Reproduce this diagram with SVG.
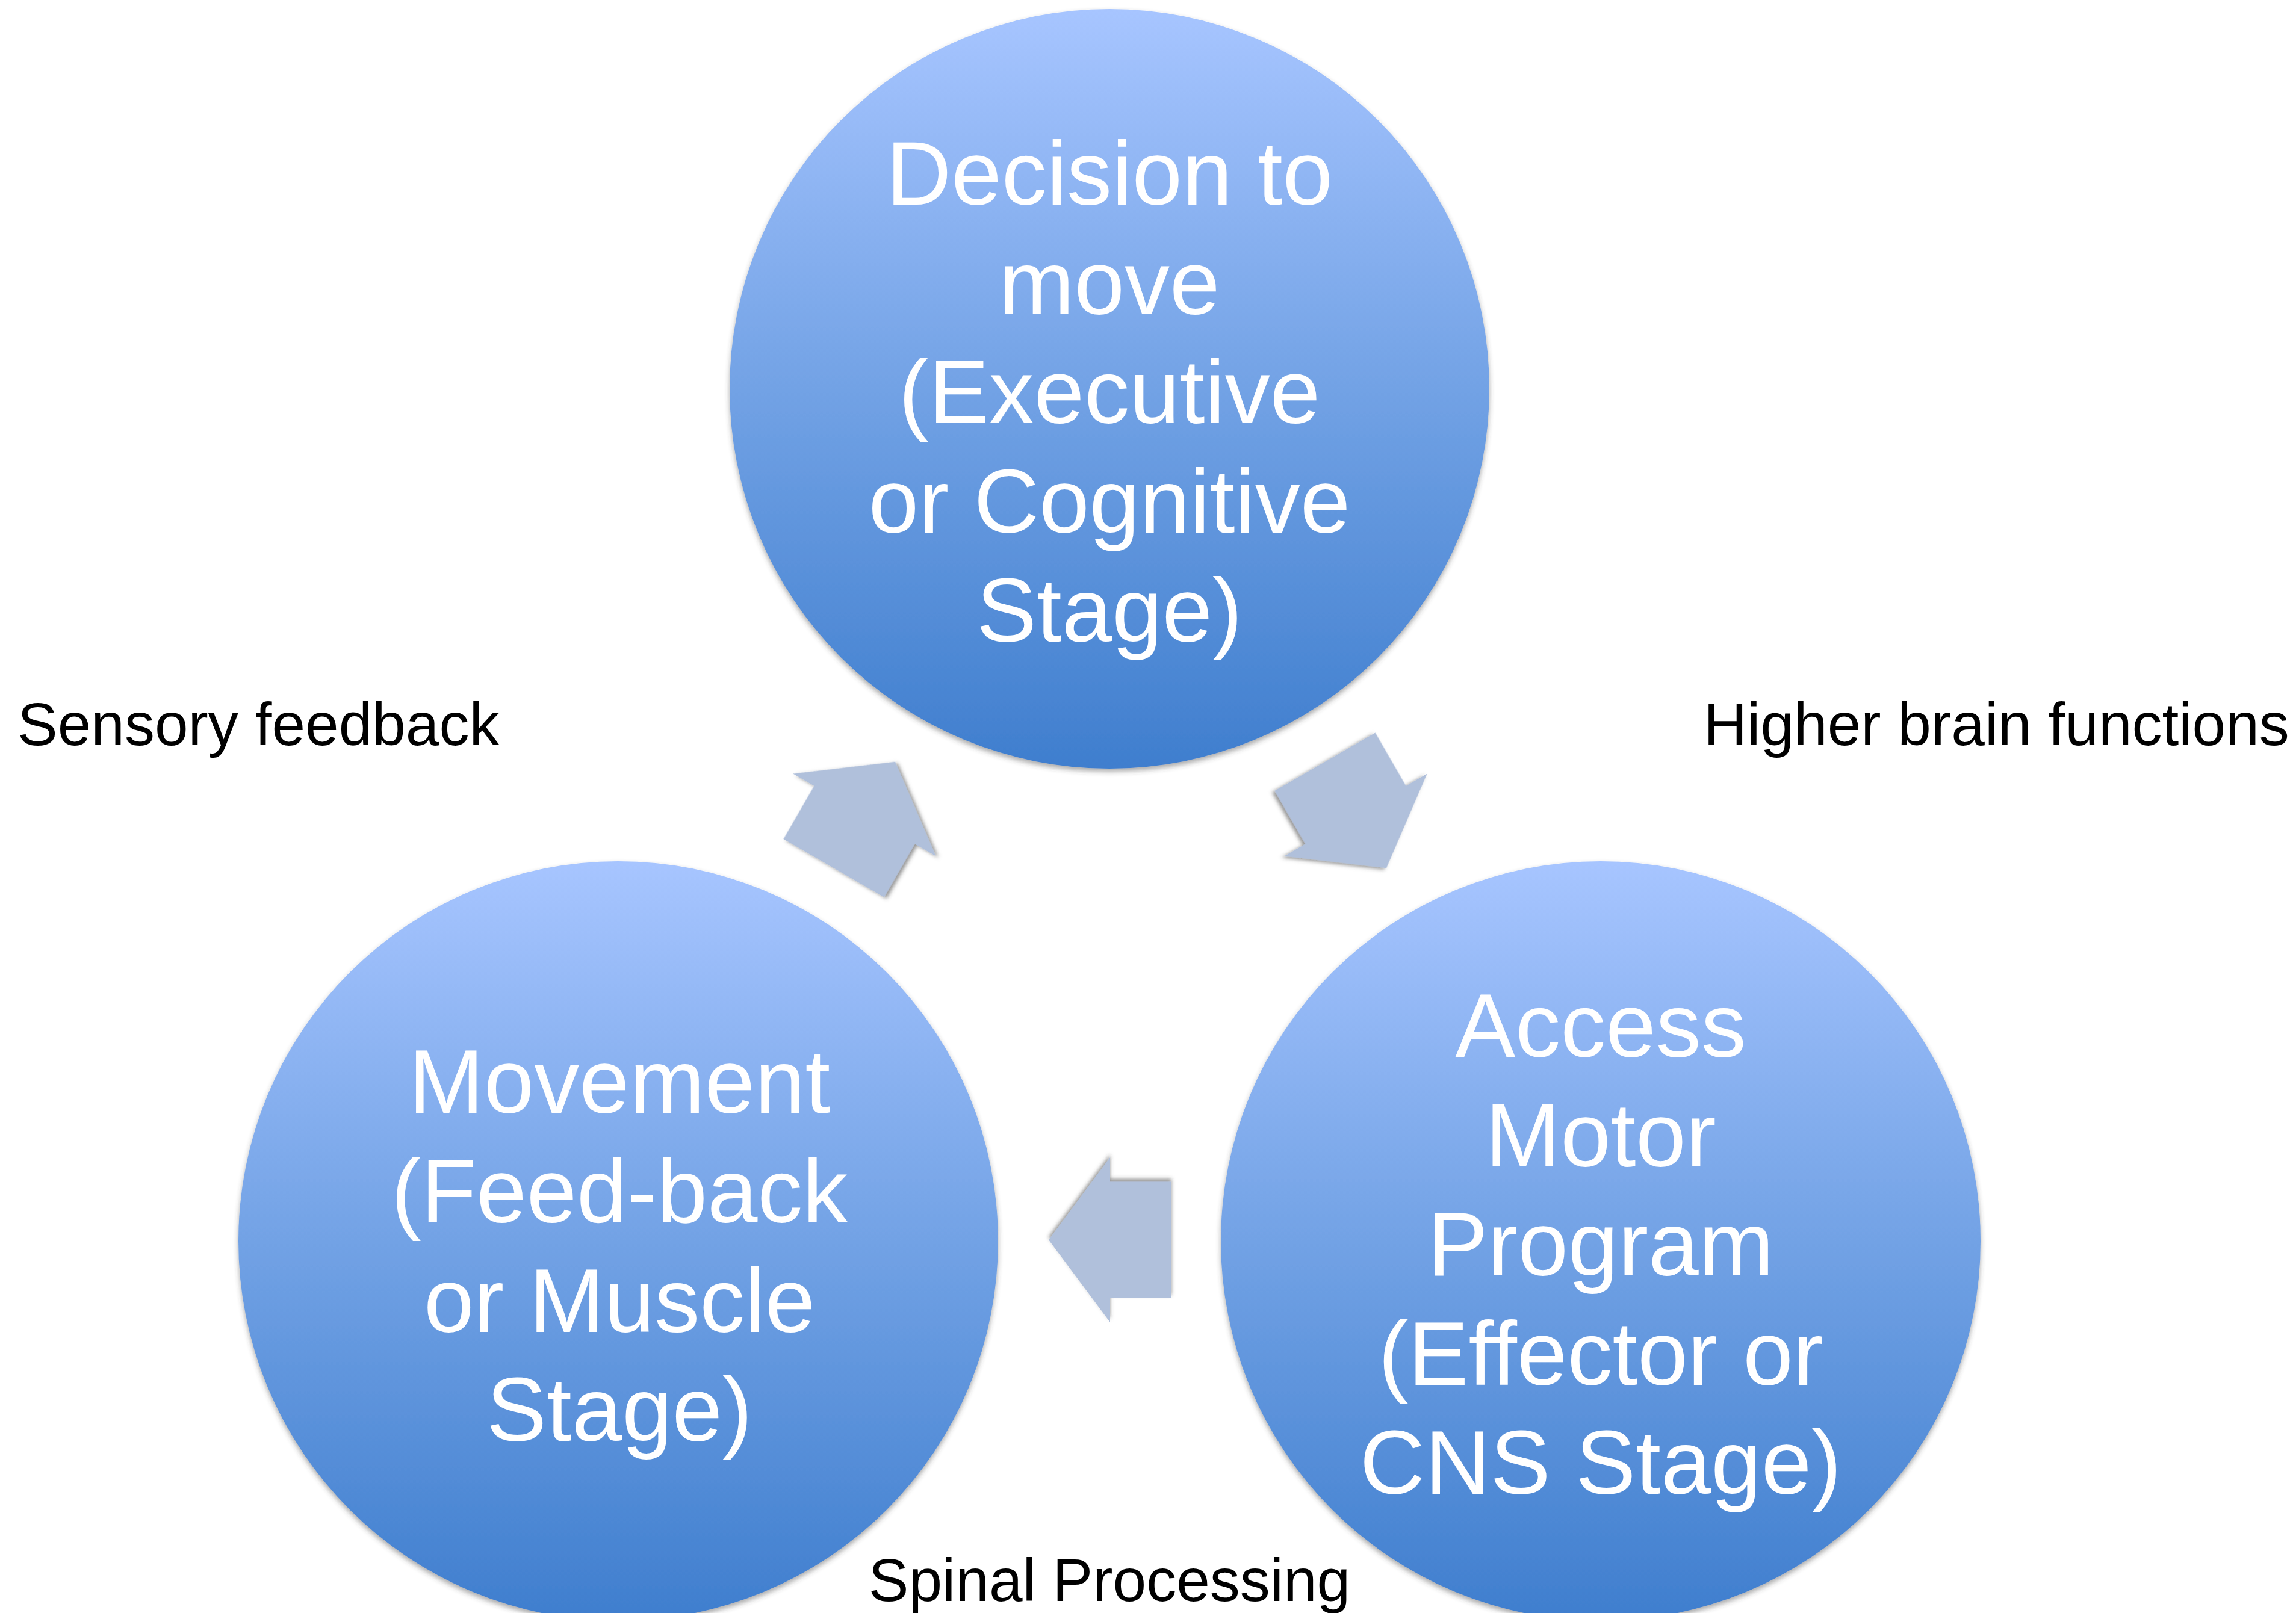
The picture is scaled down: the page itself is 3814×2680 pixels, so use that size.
<svg xmlns="http://www.w3.org/2000/svg" width="3814" height="2680" viewBox="0 0 3814 2680">
<defs>
<linearGradient id="g" x1="0" y1="0" x2="0" y2="1">
<stop offset="0" stop-color="#A7C5FF"/>
<stop offset="0.5" stop-color="#72A2E5"/>
<stop offset="1" stop-color="#3F7ECE"/>
</linearGradient>
<filter id="sh" x="-10%" y="-10%" width="120%" height="120%">
<feDropShadow dx="0" dy="5" stdDeviation="4" flood-color="#404040" flood-opacity="0.45"/>
</filter>
<filter id="ash" x="-20%" y="-20%" width="140%" height="140%">
<feDropShadow dx="0" dy="5" stdDeviation="3" flood-color="#404040" flood-opacity="0.55"/>
</filter>
<polygon id="arr" points="-102,-96.5 0,-96.5 0,-137 102,0 0,137 0,96.5 -102,96.5"/>
</defs>
<style>
.c{fill:url(#g);filter:url(#sh)}
.t{font-family:"Liberation Sans",Arial,sans-serif;font-size:150px;fill:#fff;text-anchor:middle}
.l{font-family:"Liberation Sans",Arial,sans-serif;font-size:100px;fill:#000}
.a{fill:#B0C0DB;filter:url(#ash)}
</style>
<rect width="3814" height="2680" fill="#fff"/>
<g id="node-decision">
<circle class="c" cx="1843" cy="646" r="631"/>
<text class="t"><tspan x="1843" y="340">Decision to</tspan><tspan x="1843" y="522">move</tspan><tspan x="1843" y="703">(Executive</tspan><tspan x="1843" y="885">or Cognitive</tspan><tspan x="1843" y="1066">Stage)</tspan></text>
</g>
<g id="node-movement">
<circle class="c" cx="1027" cy="2062" r="631"/>
<text class="t"><tspan x="1029" y="1849">Movement</tspan><tspan x="1029" y="2031">(Feed-back</tspan><tspan x="1029" y="2213">or Muscle</tspan><tspan x="1029" y="2394">Stage)</tspan></text>
</g>
<g id="node-access">
<circle class="c" cx="2659" cy="2062" r="631"/>
<text class="t"><tspan x="2659" y="1756">Access</tspan><tspan x="2659" y="1938">Motor</tspan><tspan x="2659" y="2119">Program</tspan><tspan x="2659" y="2301">(Effector or</tspan><tspan x="2659" y="2482">CNS Stage)</tspan></text>
</g>
<g id="connectors">
<use href="#arr" class="a" transform="translate(1436,1354) rotate(-60)"/>
<use href="#arr" class="a" transform="translate(2252,1354) rotate(60)"/>
<use href="#arr" class="a" transform="translate(1844,2060) rotate(180)"/>
</g>
<g id="labels">
<text class="l" x="29" y="1238">Sensory feedback</text>
<text class="l" x="2830" y="1238">Higher brain functions</text>
<text class="l" x="1843" y="2660" text-anchor="middle">Spinal Processing</text>
</g>
</svg>
